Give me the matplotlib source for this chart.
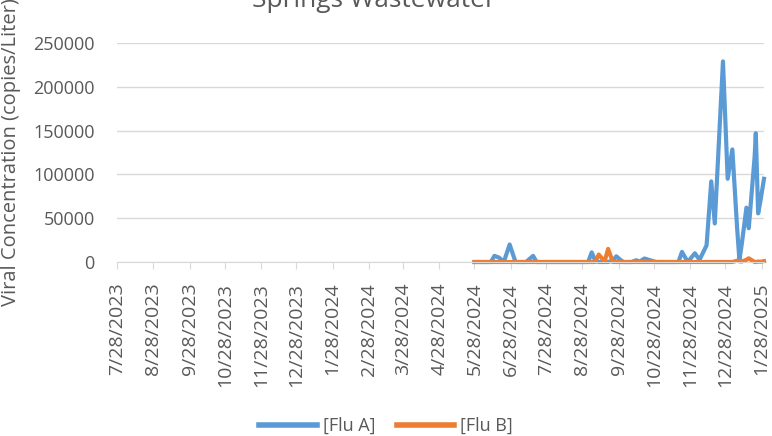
import matplotlib
matplotlib.use("Agg")
import matplotlib.pyplot as plt
import pandas as pd

# Datos
sample_dates = [
    "2024-05-28", "2024-06-11", "2024-06-14", "2024-06-18", "2024-06-22",
    "2024-06-27", "2024-07-02", "2024-07-11", "2024-07-17", "2024-07-20",
    "2024-08-15", "2024-09-02", "2024-09-05", "2024-09-08", "2024-09-11",
    "2024-09-16", "2024-09-19", "2024-09-23", "2024-09-26", "2024-09-29",
    "2024-10-02", "2024-10-09", "2024-10-13", "2024-10-16", "2024-10-20",
    "2024-10-26", "2024-10-30", "2024-11-18", "2024-11-21", "2024-11-26",
    "2024-12-02", "2024-12-06", "2024-12-12", "2024-12-16", "2024-12-19",
    "2024-12-26", "2024-12-30", "2025-01-03", "2025-01-07", "2025-01-09",
    "2025-01-11", "2025-01-15", "2025-01-17", "2025-01-22", "2025-01-23",
    "2025-01-25", "2025-01-27", "2025-01-30",
]
flu_a = [
    0, 0, 7000, 5000, 0,
    20000, 0, 0, 7000, 0,
    0, 0, 11000, 1500, 0,
    0, 0, 1500, 6500, 3000,
    0, 0, 2000, 500, 4000,
    1500, 0, 0, 11500, 0,
    10000, 2500, 19000, 92000, 44000,
    229000, 95000, 128500, 40000, 2500,
    20000, 62000, 38500, 120000, 147000,
    55500, 70000, 95000,
]
flu_b = [
    0, 0, 0, 0, 0,
    0, 0, 0, 0, 0,
    0, 0, 0, 0, 8500,
    500, 15000, 0, 0, 0,
    0, 0, 0, 0, 0,
    0, 0, 0, 0, 0,
    0, 0, 0, 0, 0,
    0, 0, 0, 1500, 800,
    500, 2500, 4200, 0, 0,
    500, 300, 1000,
]
series_names = ["[Flu A]", "[Flu B]"]
tick_dates = pd.date_range("2023-07-01", "2025-01-28", freq="MS") + pd.Timedelta(days=27)
tick_labels = [f"{d.month}/{d.day}/{d.year}" for d in tick_dates]

BLUE = "#5B9BD5"
ORANGE = "#ED7D31"
GRID = "#D9D9D9"
TEXT = "#595959"

plt.rcParams["font.family"] = ["Open Sans", "DejaVu Sans"]

fig = plt.figure(figsize=(7.72, 4.36), dpi=100)
ax = fig.add_axes([117 / 772, 1 - 262 / 436, (764 - 117) / 772, (262 - 43) / 436])

x = pd.to_datetime(sample_dates)
ax.plot(x, flu_a, color=BLUE, lw=3, solid_joinstyle="round", clip_on=False,
        label=series_names[0])
ax.plot(x, flu_b, color=ORANGE, lw=3, solid_joinstyle="round", clip_on=False,
        label=series_names[1])

ax.set_xlim(pd.Timestamp("2023-07-28"), pd.Timestamp("2025-01-30"))
ax.set_ylim(0, 250000)
ax.set_yticks(range(0, 250001, 50000))
ax.set_yticklabels([str(v) for v in range(0, 250001, 50000)])
ax.set_xticks(tick_dates)
ax.set_xticklabels(tick_labels, rotation=90)

ax.grid(axis="y", color=GRID, lw=1)
ax.set_axisbelow(True)
for side in ["top", "right", "left"]:
    ax.spines[side].set_visible(False)
ax.spines["bottom"].set_color(GRID)
ax.tick_params(axis="y", length=0, pad=16, labelsize=13, labelcolor=TEXT)
ax.tick_params(axis="x", length=5, color=GRID, pad=10, labelsize=14, labelcolor=TEXT)

ax.set_ylabel("Viral Concentration (copies/Liter)", fontsize=14.5, color=TEXT)
ax.yaxis.set_label_coords(-0.148, 0.5)

fig.text(0.485, 0.985, "Springs Wastewater", ha="center", va="baseline",
         fontsize=19, color=TEXT)

leg = fig.legend(loc="lower center", bbox_to_anchor=(0.5, -0.035), ncol=2, frameon=False,
                 fontsize=13, labelcolor=TEXT, handlelength=3.2, columnspacing=1.2,
                 handletextpad=0.3)
for line in leg.get_lines():
    line.set_linewidth(4)

fig.savefig("out.png", dpi=100)
